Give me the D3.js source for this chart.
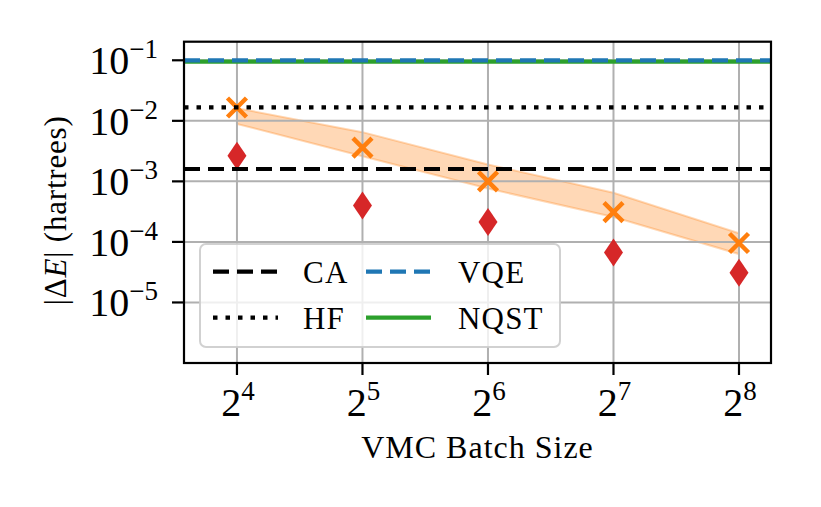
<!DOCTYPE html>
<html>
<head>
<meta charset="utf-8">
<script src="https://cdn.jsdelivr.net/npm/d3@7"></script>
<style>
  html, body { margin: 0; padding: 0; background: #fff; }
  svg { display: block; }
  text { font-family: "Liberation Serif", "Times New Roman", serif; fill: #000; }
</style>
</head>
<body>
<svg id="chart" width="821" height="507"></svg>
<script>
// ---- data ----
const batchSizes = [16, 32, 64, 128, 256];
const xTickExponents = [4, 5, 6, 7, 8];
const yTickExponents = [-1, -2, -3, -4, -5];
const meanError = [0.0166, 0.0036, 0.00100, 0.00031, 0.000096];
const bandUpper = [0.0162, 0.0065, 0.0019, 0.00065, 0.000139];
const bandLower = [0.0089, 0.0026, 0.00076, 0.000258, 0.000063];
const bestError = [0.00266, 0.00040, 0.000213, 0.000067, 0.000031];
const refNames = ["CA", "HF", "VQE", "NQST"];
const refValues = [0.0016, 0.0167, 0.100, 0.0950];

// ---- layout ----
const W = 821, H = 507;
const L = 184, R = 771, T = 41.7, B = 363;
const svg = d3.select("#chart");

const x = d3.scaleLog().base(2)
  .domain([Math.pow(2, 3.578), Math.pow(2, 8.255)])
  .range([L, R]);
const y = d3.scaleLog()
  .domain([1e-6, Math.pow(10, -0.693)])
  .range([B, T]);

const refStyle = {
  CA:   { color: "#000000", dash: "16,8" },
  HF:   { color: "#000000", dash: "4.5,8" },
  VQE:  { color: "#1f77b4", dash: "16,8" },
  NQST: { color: "#2ca02c", dash: null }
};

svg.append("defs").append("clipPath").attr("id", "clip")
  .append("rect").attr("x", L).attr("y", T).attr("width", R - L).attr("height", B - T);

const plot = svg.append("g").attr("clip-path", "url(#clip)");

// band
const area = d3.area()
  .x((d, i) => x(batchSizes[i]))
  .y0((d, i) => y(bandLower[i]))
  .y1((d, i) => y(bandUpper[i]));
plot.append("path")
  .datum(batchSizes)
  .attr("d", area)
  .attr("fill", "#ff7f0e").attr("fill-opacity", 0.3)
  .attr("stroke", "#ff7f0e").attr("stroke-opacity", 0.3).attr("stroke-width", 2);

// grid
const xTickVals = xTickExponents.map(e => Math.pow(2, e));
const yTickVals = yTickExponents.map(e => Math.pow(10, e));
plot.append("g").selectAll("line").data(xTickVals).join("line")
  .attr("x1", d => x(d)).attr("x2", d => x(d))
  .attr("y1", T).attr("y2", B)
  .attr("stroke", "#b0b0b0").attr("stroke-width", 2);
plot.append("g").selectAll("line").data(yTickVals).join("line")
  .attr("x1", L).attr("x2", R)
  .attr("y1", d => y(d)).attr("y2", d => y(d))
  .attr("stroke", "#b0b0b0").attr("stroke-width", 2);

// diamonds (best)
const dw = 9.5, dh = 14;
plot.append("g").selectAll("path").data(bestError).join("path")
  .attr("d", (d, i) => {
    const cx = x(batchSizes[i]), cy = y(d);
    return `M${cx},${cy - dh}L${cx + dw},${cy}L${cx},${cy + dh}L${cx - dw},${cy}Z`;
  })
  .attr("fill", "#d62728");

// X markers (mean)
const xa = 9.5;
plot.append("g").selectAll("path").data(meanError).join("path")
  .attr("d", (d, i) => {
    const cx = x(batchSizes[i]), cy = y(d);
    return `M${cx - xa},${cy - xa}L${cx + xa},${cy + xa}M${cx - xa},${cy + xa}L${cx + xa},${cy - xa}`;
  })
  .attr("stroke", "#ff7f0e").attr("stroke-width", 4.5).attr("fill", "none");

// reference lines (NQST first so VQE draws on top)
const order = ["NQST", "VQE", "CA", "HF"];
order.forEach(name => {
  const v = refValues[refNames.indexOf(name)];
  const st = refStyle[name];
  const yy = y(v);
  const ln = plot.append("line")
    .attr("x1", L).attr("x2", R).attr("y1", yy).attr("y2", yy)
    .attr("stroke", st.color).attr("stroke-width", 4.2);
  if (st.dash) ln.attr("stroke-dasharray", st.dash);
});

// frame
svg.append("rect").attr("x", L).attr("y", T).attr("width", R - L).attr("height", B - T)
  .attr("fill", "none").attr("stroke", "#000").attr("stroke-width", 2.2);

// x ticks
const xt = svg.append("g");
xTickExponents.forEach((e, i) => {
  const px = x(xTickVals[i]);
  xt.append("line").attr("x1", px).attr("x2", px).attr("y1", B).attr("y2", B + 12)
    .attr("stroke", "#000").attr("stroke-width", 2.2);
  const t = xt.append("text").attr("x", px + 1).attr("y", 416)
    .attr("text-anchor", "middle").attr("font-size", 40);
  t.append("tspan").text("2");
  t.append("tspan").attr("dy", -16).attr("font-size", 27).text(String(e));
});

// y ticks
const yt = svg.append("g");
yTickExponents.forEach((e, i) => {
  const py = y(yTickVals[i]);
  yt.append("line").attr("x1", L - 12).attr("x2", L).attr("y1", py).attr("y2", py)
    .attr("stroke", "#000").attr("stroke-width", 2.2);
  const t = yt.append("text").attr("x", 158).attr("y", py + 14)
    .attr("text-anchor", "end").attr("font-size", 40);
  t.append("tspan").text("10");
  t.append("tspan").attr("dy", -16).attr("font-size", 27).text("\u2212" + Math.abs(e));
});

// axis labels
svg.append("text").attr("x", (L + R) / 2).attr("y", 458)
  .attr("text-anchor", "middle").attr("font-size", 32).attr("letter-spacing", 1)
  .text("VMC Batch Size");
const yl = svg.append("text")
  .attr("transform", `translate(66,${(T + B) / 2 + 8}) rotate(-90)`)
  .attr("text-anchor", "middle").attr("font-size", 31).attr("letter-spacing", 0.8);
yl.append("tspan").text("|\u0394");
yl.append("tspan").attr("font-style", "italic").text("E");
yl.append("tspan").text("| (hartrees)");

// legend
const lg = svg.append("g");
lg.append("rect").attr("x", 200).attr("y", 244).attr("width", 360).attr("height", 103)
  .attr("rx", 6).attr("fill", "#fff").attr("fill-opacity", 0.8)
  .attr("stroke", "#cccccc").attr("stroke-opacity", 0.9).attr("stroke-width", 2);
const legendItems = [
  { name: "CA", hx: 213, lx: 303, cy: 271.7 },
  { name: "HF", hx: 213, lx: 303, cy: 317.7 },
  { name: "VQE", hx: 366, lx: 458, cy: 271.7 },
  { name: "NQST", hx: 366, lx: 458, cy: 317.7 }
];
legendItems.forEach(it => {
  const st = refStyle[it.name];
  const ln = lg.append("line").attr("x1", it.hx).attr("x2", it.hx + 65)
    .attr("y1", it.cy).attr("y2", it.cy)
    .attr("stroke", st.color).attr("stroke-width", 4.2);
  if (st.dash) ln.attr("stroke-dasharray", st.dash);
  lg.append("text").attr("x", it.lx).attr("y", it.cy + 11)
    .attr("font-size", 31).attr("letter-spacing", 1.2).text(it.name);
});
</script>
</body>
</html>
